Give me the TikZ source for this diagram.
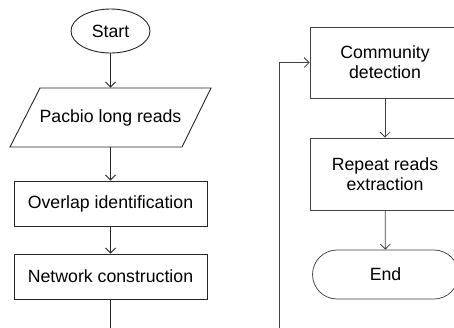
\documentclass[tikz,border=0pt]{standalone}
\usepackage{fontspec}
\setmainfont{Liberation Sans}
\usetikzlibrary{shapes.geometric,arrows.meta}
\begin{document}
\begin{tikzpicture}[x=1pt,y=-1pt,
  flow/.style={draw=black!85, line width=0.9pt},
  box/.style={flow, rectangle, inner sep=0pt, align=center, font=\fontsize{17.7}{20}\selectfont},
  link/.style={draw=black!85, line width=0.9pt, -{Straight Barb[length=5pt,width=10pt,line width=0.8pt]}},
  thin/.style={draw=black!75, line width=0.75pt},
  plain/.style={draw=black!85, line width=0.9pt}]
\useasboundingbox (0,0) rectangle (454,327);
\clip (0,0) rectangle (454,327);

% left column
\node[box, ellipse, minimum width=79pt, minimum height=44pt] (start) at (110.5,31) {Start};
\draw[flow] (10,147) -- (40,88) -- (211,88) -- (182,147) -- cycle;
\node[box, draw=none, minimum width=170pt, minimum height=59pt] (reads) at (110.5,117.5) {Pacbio long reads};
\node[box, minimum width=193pt, minimum height=45pt] (overlap) at (110.5,203.5) {Overlap identification};
\node[box, minimum width=193pt, minimum height=45pt] (network) at (110.5,276.5) {Network construction};
\coordinate (outL) at (110.5,335);

\draw[link] (start) -- (reads);
\draw[link] (reads) -- (overlap);
\draw[link] (overlap) -- (network);
\draw[plain] (network) -- (outL);

% right column, running off the right margin
\node[box, thin, minimum width=150pt, minimum height=71pt] (community) at (385,62.5) {Community\\detection};
\node[box, thin, minimum width=150pt, minimum height=72pt] (repeat) at (385,174) {Repeat reads\\extraction};
\node[box, thin, rounded corners=24.5pt, minimum width=146pt, minimum height=49pt] (finish) at (385.5,274.5) {End};
\coordinate (inR) at (279,335);

\draw[link, thin] (inR) |- (community);
\draw[link, thin] (community) -- (repeat);
\draw[link, thin] (repeat) -- (finish);
\end{tikzpicture}
\end{document}
